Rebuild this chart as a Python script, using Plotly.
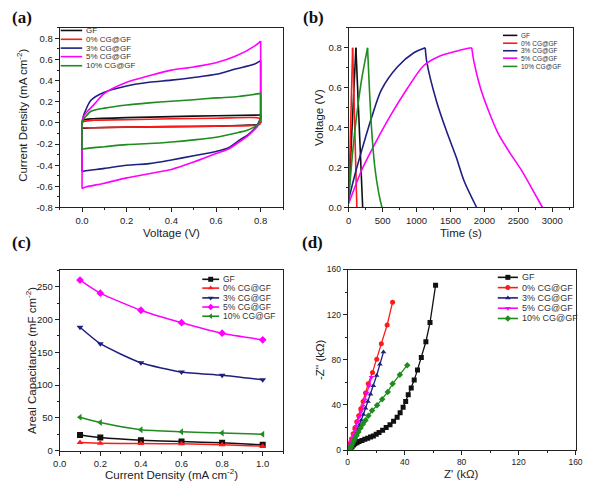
import plotly.graph_objects as go

# ---------------- DATA ----------------
series = ["GF", "0% CG@GF", "3% CG@GF", "5% CG@GF", "10% CG@GF"]
colors = ["#111111", "#ff1a1a", "#1f1f80", "#ff00ff", "#1e8c1e"]

# (a) cyclic voltammetry: anodic (up) and cathodic (down) branches
cv_gf_v_up = [0, 0.01, 0.05, 0.2, 0.4, 0.6, 0.8]
cv_gf_i_up = [0.0, 0.03, 0.04, 0.05, 0.06, 0.068, 0.075]
cv_gf_v_dn = [0.8, 0.79, 0.75, 0.6, 0.4, 0.2, 0.05, 0.01, 0]
cv_gf_i_dn = [0.0, -0.015, -0.02, -0.03, -0.035, -0.04, -0.045, -0.05, -0.05]

cv_0_v_up = [0, 0.01, 0.05, 0.2, 0.4, 0.6, 0.78, 0.8]
cv_0_i_up = [0.0, 0.015, 0.025, 0.03, 0.04, 0.045, 0.05, 0.04]
cv_0_v_dn = [0.8, 0.79, 0.75, 0.6, 0.4, 0.2, 0.05, 0.01, 0]
cv_0_i_dn = [0.0, -0.02, -0.025, -0.03, -0.035, -0.04, -0.045, -0.045, -0.045]

cv_3_v_up = [0, 0.004, 0.012, 0.04, 0.1, 0.2, 0.3, 0.4, 0.5, 0.6, 0.686, 0.77, 0.8]
cv_3_i_up = [0.0, 0.05, 0.1, 0.215, 0.29, 0.35, 0.385, 0.405, 0.43, 0.46, 0.51, 0.555, 0.59]
cv_3_v_dn = [0.8, 0.79, 0.774, 0.744, 0.7, 0.656, 0.6, 0.5, 0.4, 0.3, 0.2, 0.1, 0.01, 0]
cv_3_i_dn = [0.05, 0.0, -0.05, -0.11, -0.17, -0.235, -0.27, -0.31, -0.35, -0.385, -0.4, -0.43, -0.455, -0.46]

cv_5_v_up = [0, 0.005, 0.02, 0.056, 0.1, 0.2, 0.3, 0.4, 0.5, 0.6, 0.686, 0.774, 0.8]
cv_5_i_up = [0.0, 0.05, 0.1, 0.18, 0.28, 0.385, 0.446, 0.5, 0.53, 0.57, 0.63, 0.73, 0.775]
cv_5_v_dn = [0.8, 0.79, 0.774, 0.744, 0.7, 0.656, 0.6, 0.5, 0.4, 0.3, 0.2, 0.1, 0.01, 0]
cv_5_i_dn = [0.05, -0.02, -0.06, -0.12, -0.185, -0.246, -0.29, -0.37, -0.44, -0.48, -0.52, -0.57, -0.61, -0.62]

cv_10_v_up = [0, 0.005, 0.02, 0.04, 0.1, 0.2, 0.3, 0.4, 0.5, 0.6, 0.7, 0.8]
cv_10_i_up = [0.0, 0.03, 0.07, 0.11, 0.14, 0.17, 0.19, 0.206, 0.22, 0.237, 0.25, 0.28]
cv_10_v_dn = [0.8, 0.79, 0.77, 0.74, 0.7, 0.6, 0.5, 0.4, 0.3, 0.2, 0.1, 0.01, 0]
cv_10_i_dn = [0.03, -0.01, -0.04, -0.07, -0.09, -0.135, -0.16, -0.18, -0.195, -0.205, -0.225, -0.245, -0.25]

# (b) galvanostatic charge-discharge
gcd_gf_t = [0, 106, 206]
gcd_gf_v = [0.05, 0.8, 0.0]
gcd_0_t = [0, 58, 120]
gcd_0_v = [0.03, 0.8, 0.0]
gcd_3_t = [0, 96, 192, 336, 480, 720, 960, 1128, 1152, 1296, 1440, 1584, 1704, 1886]
gcd_3_v = [0.04, 0.17, 0.286, 0.449, 0.588, 0.705, 0.775, 0.8, 0.727, 0.53, 0.384, 0.253, 0.13, 0.0]
gcd_5_t = [0, 192, 384, 624, 864, 1104, 1344, 1584, 1728, 1814, 1848, 1944, 2064, 2208, 2352, 2544, 2736, 2856]
gcd_5_v = [0.02, 0.188, 0.318, 0.465, 0.596, 0.71, 0.759, 0.783, 0.795, 0.8, 0.727, 0.596, 0.482, 0.367, 0.286, 0.188, 0.073, 0.0]
gcd_10_t = [0, 48, 96, 192, 278, 298, 336, 384, 442, 490]
gcd_10_v = [0.04, 0.24, 0.4, 0.645, 0.8, 0.645, 0.4, 0.204, 0.073, 0.0]

# (c) areal capacitance
current_density = [0.1, 0.2, 0.4, 0.6, 0.8, 1.0]
cap_gf = [24, 20, 16, 14, 12, 9]
cap_0 = [12.5, 11.5, 11, 10.5, 9, 7]
cap_3 = [188, 163, 134, 120, 115, 108]
cap_5 = [260, 240, 214, 195, 179, 169]
cap_10 = [51, 43, 32, 29, 27, 25]

# (d) Nyquist plot
eis_gf_re = [1.5, 2.2, 3, 4, 5, 6.5, 8, 10, 12, 14, 16, 18, 20, 22, 24.5, 27, 29.7, 32.2, 34.7, 36.8, 38.9, 40.7, 42.5, 44.6, 46.7, 49, 51.7, 54.9, 57.8, 61.7]
eis_gf_im = [0.3, 1.5, 3, 4.5, 5.5, 6.5, 7.5, 8.5, 9.5, 10.5, 11.5, 12.5, 14, 15.5, 17.5, 20, 22.5, 25.5, 29, 33, 38, 43, 49, 55, 62, 71, 82, 96, 113, 146]
eis_0_re = [0.3, 0.9, 1.7, 2.7, 3.8, 5, 6.3, 7.7, 9.2, 10.8, 12.5, 14.4, 17.4, 20.4, 23.6, 27.7, 31.5]
eis_0_im = [0.5, 2.5, 6, 10, 14.5, 19.5, 25, 30.5, 36.5, 43, 50.5, 58.7, 68.8, 80.4, 94.3, 110.8, 131]
eis_3_re = [0.4, 1, 1.8, 2.7, 3.7, 4.7, 5.8, 7, 8.2, 9.5, 11, 12.5, 14.2, 16, 18, 20.3, 22.6, 25.1]
eis_3_im = [0.4, 1.5, 3.2, 5.5, 8, 11, 14.5, 18, 22, 26.5, 31.5, 37, 43, 49.5, 57, 66, 76, 86.8]
eis_5_re = [0.1, 0.5, 1, 1.6, 2.4, 3.2, 4.1, 5, 6, 7, 8.1, 9.3, 10.6, 12, 13.4, 15, 16.7]
eis_5_im = [0.2, 1.2, 3, 5, 7.5, 10.5, 14, 17.5, 21, 25, 29.5, 34, 39, 44.5, 50.5, 57, 64.5]
eis_10_re = [1.2, 1.7, 2.3, 3, 4, 5, 6.2, 7.5, 9, 10.7, 12.5, 14.5, 17.1, 20.6, 24.2, 28.1, 31.5, 36.6, 41.8]
eis_10_im = [0.5, 1.5, 3, 5, 7.5, 10, 13, 16, 19.5, 23, 26.5, 30.5, 35, 39.6, 45.1, 51.5, 58.7, 66.8, 75.2]

# tick labels
a_xticks = [0.0, 0.2, 0.4, 0.6, 0.8]
a_xlabels = ["0.0", "0.2", "0.4", "0.6", "0.8"]
a_yticks = [-0.8, -0.6, -0.4, -0.2, 0.0, 0.2, 0.4, 0.6, 0.8]
a_ylabels = ["-0.8", "-0.6", "-0.4", "-0.2", "0.0", "0.2", "0.4", "0.6", "0.8"]
b_xticks = [0, 500, 1000, 1500, 2000, 2500, 3000]
b_xlabels = ["0", "500", "1000", "1500", "2000", "2500", "3000"]
b_yticks = [0.0, 0.2, 0.4, 0.6, 0.8]
b_ylabels = ["0.0", "0.2", "0.4", "0.6", "0.8"]
c_xticks = [0.0, 0.2, 0.4, 0.6, 0.8, 1.0]
c_xlabels = ["0.0", "0.2", "0.4", "0.6", "0.8", "1.0"]
c_yticks = [0, 50, 100, 150, 200, 250]
c_ylabels = ["0", "50", "100", "150", "200", "250"]
d_ticks = [0, 40, 80, 120, 160]
d_labels = ["0", "40", "80", "120", "160"]

# ---------------- LAYOUT CONSTANTS ----------------
W, H = 591, 491
SANS = "Liberation Sans, Arial, sans-serif"
SERIF = "Liberation Serif, Times New Roman, serif"
TXT = "#222222"


def fx(px):
    return px / W


def fy(py):
    return 1 - py / H


boxes = {  # left, right, top, bottom (pixels)
    "a": (54, 282.7, 23.3, 206.7),
    "b": (350, 579.3, 23.3, 206.7),
    "c": (54, 282.7, 270.7, 455),
    "d": (349, 582.3, 270, 454.3),
}

fig = go.Figure()


def seg(x, y, col, xa, ya, shape="spline", width=1.6):
    fig.add_trace(go.Scatter(x=x, y=y, mode="lines",
                             line=dict(color=col, width=width, shape=shape, smoothing=0.8),
                             xaxis=xa, yaxis=ya, showlegend=False))


# ---- (a) CV
cv_sets = [
    (cv_gf_v_up, cv_gf_i_up, cv_gf_v_dn, cv_gf_i_dn),
    (cv_0_v_up, cv_0_i_up, cv_0_v_dn, cv_0_i_dn),
    (cv_3_v_up, cv_3_i_up, cv_3_v_dn, cv_3_i_dn),
    (cv_5_v_up, cv_5_i_up, cv_5_v_dn, cv_5_i_dn),
    (cv_10_v_up, cv_10_i_up, cv_10_v_dn, cv_10_i_dn),
]
for (vu, iu, vd, idn), col in zip(cv_sets, colors):
    seg(vu, iu, col, "x", "y")
    seg(vd, idn, col, "x", "y")
    # switching-potential edges joining the two branches
    seg([vu[-1], vd[0]], [iu[-1], idn[0]], col, "x", "y", "linear")
    seg([vd[-1], vu[0]], [idn[-1], iu[0]], col, "x", "y", "linear")

# ---- (b) GCD: charge and discharge segments
gcd_sets = [(gcd_gf_t, gcd_gf_v), (gcd_0_t, gcd_0_v), (gcd_3_t, gcd_3_v),
            (gcd_5_t, gcd_5_v), (gcd_10_t, gcd_10_v)]
for (t, v), col in zip(gcd_sets, colors):
    k = v.index(max(v))
    seg(t[:k + 1], v[:k + 1], col, "x2", "y2")
    seg(t[k:], v[k:], col, "x2", "y2")

# ---- (c) capacitance
c_symbols = ["square", "triangle-up", "triangle-down", "diamond", "triangle-left"]
for vals, name, col, sym in zip([cap_gf, cap_0, cap_3, cap_5, cap_10], series, colors, c_symbols):
    fig.add_trace(go.Scatter(x=current_density, y=vals, mode="lines+markers", name=name,
                             line=dict(color=col, width=1.5, shape="spline", smoothing=0.6),
                             marker=dict(symbol=sym, size=6, color=col),
                             xaxis="x3", yaxis="y3", showlegend=False))

# ---- (d) Nyquist
d_symbols = ["square", "circle", "triangle-up", "triangle-down", "diamond"]
eis_sets = [(eis_gf_re, eis_gf_im), (eis_0_re, eis_0_im), (eis_3_re, eis_3_im),
            (eis_5_re, eis_5_im), (eis_10_re, eis_10_im)]
for (re_, im_), name, col, sym in zip(eis_sets, series, colors, d_symbols):
    fig.add_trace(go.Scatter(x=re_, y=im_, mode="lines+markers", name=name,
                             line=dict(color=col, width=1.3),
                             marker=dict(symbol=sym, size=5, color=col),
                             xaxis="x4", yaxis="y4", showlegend=False))

# ---- manual legends (pixel overlay axes x5/y5)
legend_specs = {
    # rows y, line x0, x1, text x, font size, symbols, marker size
    "a": ([26, 35, 44, 52.7, 62], 55, 77, 79, 8, None, 0),
    "b": ([31, 39, 46.7, 54.3, 62.7], 508, 522.7, 524, 6.5, None, 0),
    "c": ([280, 289, 299, 308.3, 317.7], 200, 217.3, 219.5, 8.5, c_symbols, 5),
    "d": ([278, 288.5, 299, 309.5, 320], 502.7, 523.3, 525, 9, d_symbols, 5),
}
annotations = []
for key, (rows, x0, x1, xt, fs, syms, msz) in legend_specs.items():
    for i, (yy, name, col) in enumerate(zip(rows, series, colors)):
        fig.add_trace(go.Scatter(x=[x0, x1], y=[yy, yy], mode="lines",
                                 line=dict(color=col, width=1.6),
                                 xaxis="x5", yaxis="y5", showlegend=False,
                                 hoverinfo="skip"))
        if syms:
            fig.add_trace(go.Scatter(x=[(x0 + x1) / 2], y=[yy], mode="markers",
                                     marker=dict(symbol=syms[i], size=msz, color=col),
                                     xaxis="x5", yaxis="y5", showlegend=False,
                                     hoverinfo="skip"))
        annotations.append(dict(x=fx(xt), y=fy(yy), xref="paper", yref="paper",
                                text=name, showarrow=False, xanchor="left",
                                yanchor="middle", font=dict(family=SANS, size=fs, color="#333333")))


def axis(box, horizontal, rng, tickvals, ticktext, minor_dtick, anchor, tfs=9.5):
    l, r, t, b = box
    dom = [fx(l), fx(r)] if horizontal else [fy(b), fy(t)]
    return dict(domain=dom, range=rng, anchor=anchor, tickmode="array",
                tickvals=tickvals, ticktext=ticktext,
                showline=True, mirror=True, linecolor="#222222", linewidth=1,
                ticks="outside", ticklen=4, tickwidth=1, tickcolor="#222222",
                minor=dict(tickmode="linear", tick0=0, dtick=minor_dtick,
                           ticks="outside", ticklen=2, tickcolor="#222222"),
                showgrid=False, zeroline=False, ticklabeloverflow="allow",
                tickfont=dict(family=SANS, size=tfs, color=TXT))


layout = dict(
    width=W, height=H, margin=dict(l=0, r=0, t=0, b=0),
    paper_bgcolor="white", plot_bgcolor="rgba(0,0,0,0)",
    showlegend=False, hovermode=False,
    xaxis=axis(boxes["a"], True, [-0.1, 0.9], a_xticks, a_xlabels, 0.1, "y"),
    yaxis=axis(boxes["a"], False, [-0.8, 0.9], a_yticks, a_ylabels, 0.1, "x"),
    xaxis2=axis(boxes["b"], True, [0, 3300], b_xticks, b_xlabels, 250, "y2"),
    yaxis2=axis(boxes["b"], False, [0, 0.9], b_yticks, b_ylabels, 0.1, "x2"),
    xaxis3=axis(boxes["c"], True, [0, 1.1], c_xticks, c_xlabels, 0.1, "y3", 9.5),
    yaxis3=axis(boxes["c"], False, [0, 275], c_yticks, c_ylabels, 25, "x3", 9.5),
    xaxis4=axis(boxes["d"], True, [0, 160], d_ticks, d_labels, 20, "y4", 8.5),
    yaxis4=axis(boxes["d"], False, [0, 160], d_ticks, d_labels, 20, "x4", 8.5),
    xaxis5=dict(domain=[0, 1], range=[0, W], visible=False, anchor="y5", fixedrange=True),
    yaxis5=dict(domain=[0, 1], range=[H, 0], visible=False, anchor="x5", fixedrange=True),
)

# axis titles
titles = [
    ("Current Density (mA cm<sup>-2</sup>)", 15.5, 113, -90),
    ("Voltage (V)", 168.3, 233, 0),
    ("Voltage (V)", 319, 115, -90),
    ("Time (s)", 464.7, 233, 0),
    ("Areal Capacitance (mF cm<sup>-2</sup>)", 24, 363, -90),
    ("Current Density (mA cm<sup>-2</sup>)", 168.3, 479, 0),
    ("-Z'' (kΩ)", 320, 362, -90),
    ("Z' (kΩ)", 465.7, 479, 0),
]
for text, px, py, ang in titles:
    annotations.append(dict(x=fx(px), y=fy(py), xref="paper", yref="paper",
                            text=text, showarrow=False, textangle=ang,
                            xanchor="center", yanchor="middle",
                            font=dict(family=SANS, size=11.5, color=TXT)))

# panel labels
for text, px, py in [("(a)", 15, 12.5), ("(b)", 314, 13), ("(c)", 15, 242), ("(d)", 313, 242)]:
    annotations.append(dict(x=fx(px), y=fy(py), xref="paper", yref="paper",
                            text="<b>%s</b>" % text, showarrow=False,
                            xanchor="center", yanchor="middle",
                            font=dict(family=SERIF, size=17, color="#111111")))

layout["annotations"] = annotations
fig.update_layout(**layout)
fig.write_html("out.html", config={"displayModeBar": False},
               post_script="document.body.style.margin='0';document.body.style.overflow='hidden';")
